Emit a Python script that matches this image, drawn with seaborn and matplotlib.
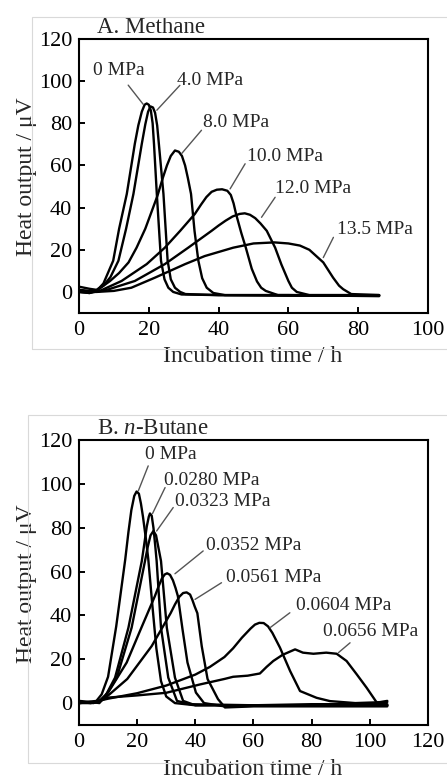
import matplotlib
matplotlib.use("Agg")
import matplotlib.pyplot as plt
import seaborn as sns
import pandas as pd
from matplotlib.patches import Rectangle

# ---------------- Panel A: Methane ----------------
A_labels = ["0 MPa", "4.0 MPa", "8.0 MPa", "10.0 MPa", "12.0 MPa", "13.5 MPa"]
A_x = [
    [0, 3, 5, 7, 9.8, 11.5, 13.7, 16, 17, 18, 18.8, 19.4, 20, 20.6, 21.1, 21.5, 22.3, 23.5, 24.5, 25.6, 27, 29.4, 40, 60, 86],
    [0, 3, 5, 7, 9, 11.3, 13.5, 15.6, 18, 19, 19.8, 20.5, 21.2, 21.8, 22.4, 22.9, 24.2, 25.4, 26.3, 27.5, 29, 30.5, 40, 60, 86],
    [0, 3, 5, 8.9, 11.5, 14.2, 16.5, 19, 22.5, 24, 25.2, 26.3, 27.5, 28.6, 29.5, 30.4, 31.2, 32.1, 33.1, 34.2, 35.3, 36.6, 38.5, 41.8, 60, 86],
    [0, 3, 6, 12.2, 19.4, 24.6, 29, 33.2, 35, 36.5, 38, 39.5, 41, 42.5, 43.5, 44.3, 45, 46.5, 47.8, 49.5, 51, 52.2, 53.5, 57, 70, 86],
    [0, 3, 8.4, 16, 24.6, 31.3, 38, 40, 42, 44, 46, 47.5, 49, 50.5, 52, 53.8, 56.2, 58, 60, 61, 62.4, 66, 86],
    [0, 5, 10, 15, 21.8, 30.4, 36, 44.2, 50, 56, 60, 63.3, 66, 68, 70, 72.8, 74.5, 75.7, 78, 86],
]
A_y = [
    [1, 0.5, 0.5, 4, 14.8, 30, 46.5, 70.3, 79, 85.5, 88.8, 89.4, 88.8, 86, 80, 70, 46.5, 14.8, 6, 2, 0, -1.2, -1.5, -1.8, -1.8],
    [2.5, 1.5, 1, 3, 7, 14.8, 30, 46.5, 70.3, 79.5, 85.5, 88, 87.5, 85, 79, 70, 46.5, 14.8, 6, 2, 0, -1, -1.5, -1.5, -2],
    [0, -0.5, 0.5, 5.2, 9, 14, 21, 30, 45.7, 54, 60, 64.5, 67.1, 66.5, 64.5, 60, 54, 46.5, 29, 14.8, 6.5, 2, -0.5, -1.5, -1.5, -1.8],
    [1, 0, 0.5, 5.2, 13.2, 21, 29, 37, 41.5, 45, 47.5, 48.5, 48.7, 48, 46, 42, 37, 28, 21, 11, 5, 2, 0.5, -1.5, -1.5, -1.5],
    [0, -0.5, 1.2, 5.2, 13.2, 21, 29, 31.5, 33.8, 35.8, 37, 37.3, 36.6, 35, 32.5, 29, 21, 13, 5.2, 2, 0, -1.5, -1.5],
    [0.5, 0, 0.5, 2, 6.8, 13.2, 17, 21, 23, 23.5, 23, 22, 20, 17, 14, 6.8, 3, 1.3, -1, -1.5],
]
A_text_xy = [(11.3, 105.2), (37.5, 100.5), (44.9, 80.2), (59.0, 64.3), (67.1, 48.9), (84.8, 29.4)]
A_lead_from = [(14.1, 98.1), (28.9, 98.0), (35.1, 76.7), (47.6, 60.8), (56.2, 44.9), (72.9, 25.9)]
A_lead_to = [(18.4, 89.0), (22.3, 86.2), (29.4, 65.6), (43.3, 48.9), (52.3, 35.4), (70.0, 16.3)]
A_xticks = [0, 20, 40, 60, 80, 100]

# ---------------- Panel B: n-Butane ----------------
B_labels = ["0 MPa", "0.0280 MPa", "0.0323 MPa", "0.0352 MPa", "0.0561 MPa", "0.0604 MPa", "0.0656 MPa"]
B_x = [
    [0, 3, 6, 7.8, 10, 12.8, 15.9, 17, 18, 19, 19.8, 20.6, 21.3, 22, 23, 23.8, 25.2, 26.6, 28.2, 30, 33, 40, 60, 80, 106],
    [0, 4, 7, 9, 12.4, 17, 21.6, 22.5, 23.3, 24, 24.4, 25, 25.6, 26.2, 26.7, 28.2, 30.7, 33.7, 38, 60, 106],
    [0, 4, 7, 9, 13, 18.1, 22.7, 23.6, 24.6, 25.6, 26.5, 27.3, 28.2, 30.2, 33, 35.8, 40, 60, 106],
    [0, 4, 7, 10.1, 16.4, 21.2, 26.1, 27.3, 28.5, 29.5, 30.3, 31.3, 32.3, 33.2, 34, 35.6, 37.3, 40.2, 43, 50, 70, 106],
    [0, 4, 7, 10.5, 16.6, 25, 31.5, 33, 34.5, 35.8, 37, 38.2, 39, 39.8, 40.7, 42.2, 44.2, 47.8, 50.2, 60, 80, 106],
    [0, 5, 10, 20, 30, 40, 45, 50, 53, 56, 59, 60.5, 62, 63.5, 65, 66.5, 69.1, 72.6, 76, 81.7, 86.3, 95, 106],
    [0, 5, 10, 20, 30, 41.6, 50, 53, 58, 62.2, 64.5, 66.8, 70, 74.3, 77, 80.6, 85, 88.6, 92, 95.5, 98.9, 102.4, 106],
]
B_y = [
    [0, 0.5, 1, 4, 12, 35, 65.5, 78, 88, 94.5, 96.5, 95.5, 91, 85, 75, 66, 45, 25, 10, 3, 0, -1, -1, -0.5, -0.5],
    [1, 0.5, 0, 3, 11.6, 34.4, 64.8, 73, 80.5, 85, 86.5, 85.5, 80, 72, 64.8, 34.4, 11.6, 1, -0.5, -1, -1],
    [0, 0, 0.5, 3, 11.6, 34.4, 64.8, 71, 76.5, 78.5, 76.5, 71, 64.8, 34.4, 11.6, 1, -1, -1, -1],
    [0.5, 0, 1, 5, 18.5, 33.6, 48.8, 53, 56.8, 58.7, 59.2, 58.5, 56, 52.5, 48.8, 33.6, 18.5, 4.8, 0, -1.5, -1, -1],
    [0, 0.5, 0.5, 4, 11, 26, 41, 45, 48.5, 50.2, 50.5, 49.5, 47, 44, 41, 26, 11, 1.8, -2, -1.5, -1.5, -1.5],
    [0, 0.5, 2, 4.5, 8, 13, 16.5, 21, 25, 29.8, 34, 35.8, 36.6, 36.5, 35, 32, 25.3, 14.6, 5.5, 2.4, 0.9, 0, 0.5],
    [0.5, 0, 2.5, 3.5, 4.7, 8.5, 11, 12, 12.5, 13.5, 16.5, 19.2, 22, 24.5, 23, 22.5, 23, 22.5, 19.2, 13.1, 7, 0.2, 1],
]
B_text_xy = [(31.5, 113.2), (45.8, 101.7), (49.3, 91.8), (60.2, 72.1), (67.0, 57.5), (90.9, 44.7), (100.3, 32.6)]
B_lead_from = [(23.8, 108.2), (29.6, 98.3), (32.4, 89.2), (42.7, 69.4), (49.0, 54.9), (72.5, 41.2), (93.2, 27.5)]
B_lead_to = [(20.4, 96.8), (25.3, 86.5), (26.7, 78.5), (33.0, 59.0), (39.9, 47.3), (65.7, 34.4), (89.2, 23.0)]
B_xticks = [0, 20, 40, 60, 80, 100, 120]

Y_TICKS = [0, 20, 40, 60, 80, 100, 120]

sns.set_theme(style="ticks")
plt.rcParams.update({
    "font.family": ["Liberation Serif", "DejaVu Serif"],
    "mathtext.fontset": "custom",
    "mathtext.rm": "Liberation Serif",
    "mathtext.it": "Liberation Serif:italic",
    "axes.linewidth": 1.5,
    "axes.edgecolor": "black",
    "xtick.direction": "in",
    "ytick.direction": "in",
    "xtick.major.size": 4,
    "ytick.major.size": 4,
    "xtick.major.width": 1.4,
    "ytick.major.width": 1.4,
    "xtick.color": "black",
    "ytick.color": "black",
})

fig = plt.figure(figsize=(4.47, 7.81), dpi=100)
fig.patch.set_facecolor("white")

# faint panel borders from the source figure
for (x0, y0, y1) in [(0.0716, 0.5531, 0.9782), (0.0626, 0.0230, 0.4686)]:
    fig.patches.append(Rectangle((x0, y0), 1.2, y1 - y0, transform=fig.transFigure,
                                 fill=False, edgecolor="#d9d9d9", lw=0.8, zorder=0))

axA = fig.add_axes([0.1767, 0.5992, 0.7808, 0.3509])
axB = fig.add_axes([0.1767, 0.0717, 0.7808, 0.3649])


def draw_panel(ax, labels, xs, ys, xlim, xticks, title, text_xy, lead_from, lead_to, xlab_y):
    frames = [pd.DataFrame({"t": x, "q": y, "series": lab}) for lab, x, y in zip(labels, xs, ys)]
    df = pd.concat(frames, ignore_index=True)
    sns.lineplot(data=df, x="t", y="q", units="series", estimator=None, sort=False,
                 color="black", lw=1.7, ax=ax, legend=False)
    for ln in ax.lines:
        ln.set_solid_joinstyle("round")
    ax.set_xlim(*xlim)
    ax.set_ylim(-10, 120)
    ax.set_xticks(xticks)
    ax.set_yticks(Y_TICKS)
    ax.tick_params(axis="x", labelsize=16, pad=5.5, top=False)
    ax.tick_params(axis="y", labelsize=16, pad=5, right=False)
    for s in ax.spines.values():
        s.set_visible(True)
        s.set_linewidth(1.5)
        s.set_color("black")
    ax.set_xlabel("Incubation time / h", fontsize=17)
    ax.set_ylabel("Heat output / μV", fontsize=17)
    ax.xaxis.set_label_coords(0.497, xlab_y)
    ax.yaxis.set_label_coords(-0.12, 0.497)
    ax.text(0.052, 1.022, title, transform=ax.transAxes, fontsize=16.5, va="baseline", ha="left")
    for lab, (tx, ty), p0, p1 in zip(labels, text_xy, lead_from, lead_to):
        ax.text(tx, ty, lab, fontsize=14, ha="center", va="center")
        ax.annotate("", xy=p1, xytext=p0,
                    arrowprops=dict(arrowstyle="-", color="#555555", lw=1.0,
                                    shrinkA=0, shrinkB=0))
    ax.set_facecolor("white")


draw_panel(axA, A_labels, A_x, A_y, (0, 100), A_xticks, "A. Methane",
           A_text_xy, A_lead_from, A_lead_to, -0.122)
draw_panel(axB, B_labels, B_x, B_y, (0, 120), B_xticks, "B. $n$-Butane",
           B_text_xy, B_lead_from, B_lead_to, -0.118)

fig.savefig("out.png", dpi=100, facecolor="white")
